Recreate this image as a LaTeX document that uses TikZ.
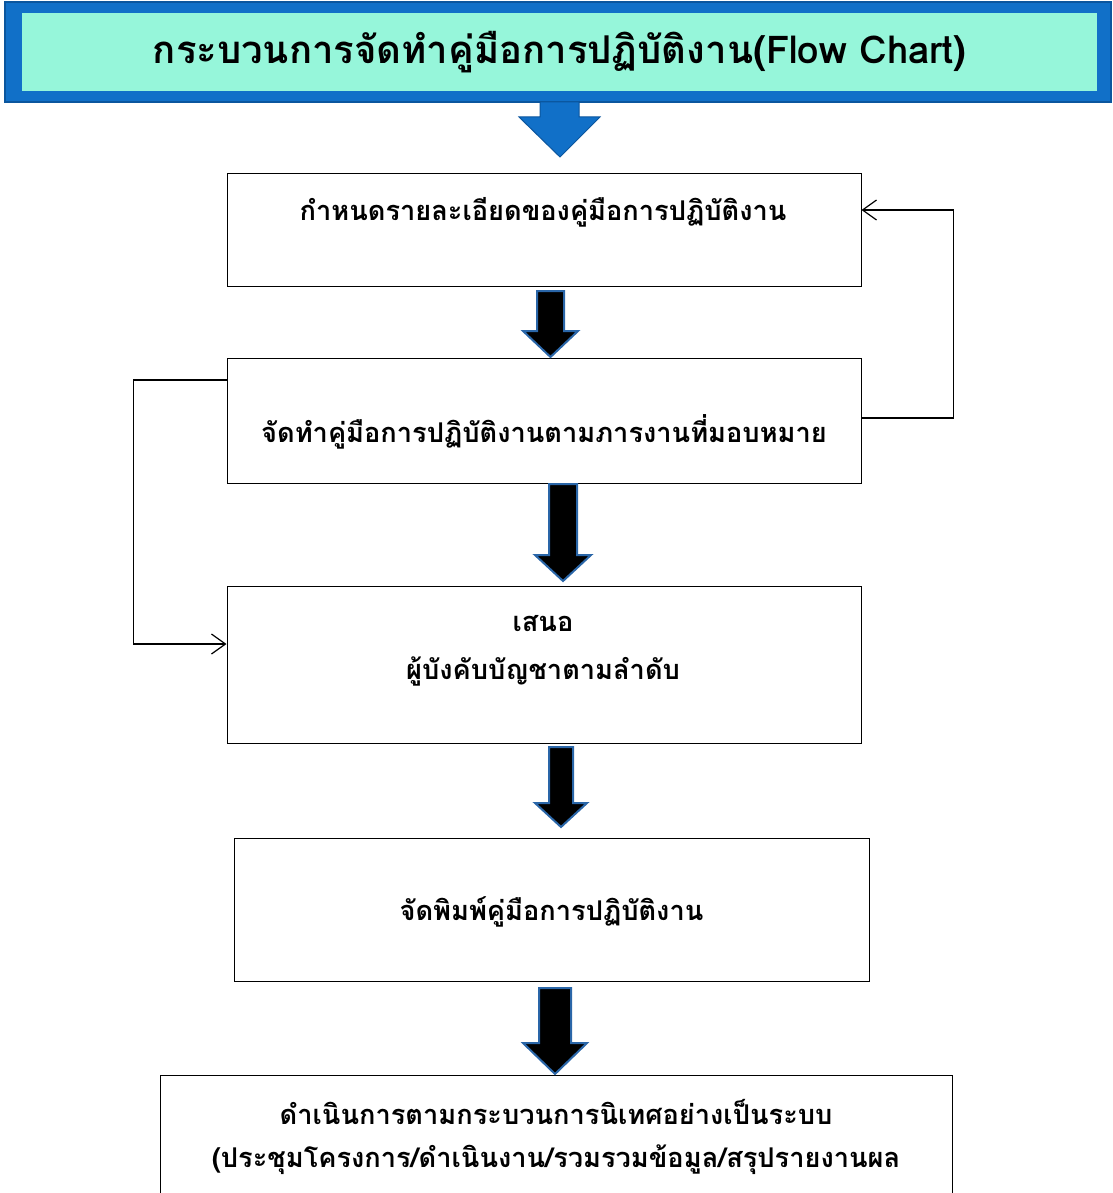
\documentclass[tikz,border=0pt]{standalone}
\usepackage{fontspec}
\newfontfamily\thai[Script=Thai]{Loma}
\usetikzlibrary{arrows.meta}
\definecolor{titleblue}{HTML}{1170C8}
\definecolor{titleedge}{HTML}{0B569E}
\definecolor{aqua}{HTML}{96F6DA}
\definecolor{arrowedge}{HTML}{2A66A8}
\tikzset{
  box/.style={draw=black, line width=1pt, fill=white, inner sep=0pt},
  boxtext/.style={font=\thai\bfseries\fontsize{27.2}{32}\selectfont, inner sep=0pt, align=center},
  blockarrow/.style={fill=black, draw=arrowedge, line width=2pt, line join=miter},
  fb/.style={draw=black, line width=1.2pt, -{Straight Barb[length=14pt,width=20pt,line width=1.2pt]}},
}
\begin{document}
\begin{tikzpicture}[x=1pt,y=-1pt]
\useasboundingbox (0,0) rectangle (1112,1193);
% title bar
\fill[titleblue] (5,2) rectangle (1111,102);
\draw[titleedge, line width=1.5pt] (5,2) rectangle (1111,102);
\node[fill=aqua, minimum width=1075pt, minimum height=78pt, inner sep=0pt] (title) at (559.5,52)
  {\thai\bfseries\fontsize{38.3}{44}\selectfont กระบวนการจัดทำคู่มือการปฏิบัติงาน(Flow Chart)};
% title arrow
\fill[titleblue, draw=titleedge, line width=1pt] (540,102) -- (579,102) -- (579,117) -- (600,117) -- (560,157) -- (519,117) -- (540,117) -- cycle;
% boxes
\node[box, minimum width=634pt, minimum height=112pt] (b1) at (544,230) {};
\node[boxtext] (t1) at (543,212) {กำหนดรายละเอียดของคู่มือการปฏิบัติงาน};
\node[box, minimum width=634pt, minimum height=125pt] (b2) at (544,420.5) {};
\node[boxtext] (t2) at (544,432) {จัดทำคู่มือการปฏิบัติงานตามภารงานที่มอบหมาย};
\node[box, minimum width=634pt, minimum height=157pt] (b3) at (544,664.5) {};
\node[boxtext] (t3a) at (543,624) {เสนอ};
\node[boxtext] (t3b) at (543,671) {ผู้บังคับบัญชาตามลำดับ};
\node[box, minimum width=635pt, minimum height=143pt] (b4) at (551.5,909.5) {};
\node[boxtext] (t4) at (551.5,912) {จัดพิมพ์คู่มือการปฏิบัติงาน};
\node[box, minimum width=792pt, minimum height=140pt, anchor=north] (b5) at (556,1075) {};
\node[boxtext] (t5a) at (556,1112) {ดำเนินการตามกระบวนการนิเทศอย่างเป็นระบบ};
\node[boxtext] (t5b) at (556,1160) {(ประชุมโครงการ/ดำเนินงาน/รวมรวมข้อมูล/สรุปรายงานผล};
% block arrows
\path[blockarrow] (537,291) -- (564,291) -- (564,331) -- (578,331) -- (550.5,357) -- (523,331) -- (537,331) -- cycle;
\path[blockarrow] (549,484) -- (577,484) -- (577,555) -- (591,555) -- (563,581) -- (535,555) -- (549,555) -- cycle;
\path[blockarrow] (549,747) -- (573,747) -- (573,803) -- (587,803) -- (561,827) -- (535,803) -- (549,803) -- cycle;
\path[blockarrow] (539,988) -- (571,988) -- (571,1043) -- (587,1043) -- (555,1074) -- (523,1043) -- (539,1043) -- cycle;
% feedback connectors
\draw[fb] ([yshift=2.5pt]b2.east) -- ++(92,0) |- ([yshift=20pt]b1.east);
\draw[fb] ([yshift=40.5pt]b2.west) -- ++(-93,0) |- ([yshift=20.5pt]b3.west);
\end{tikzpicture}
\end{document}
